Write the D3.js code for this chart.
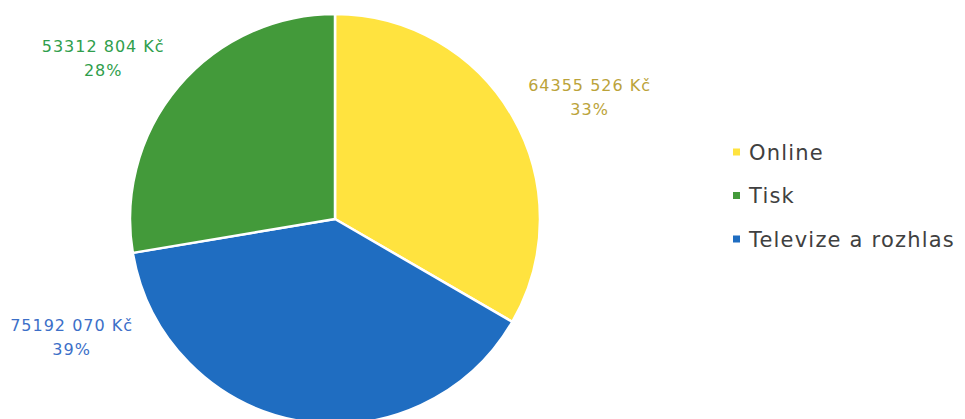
<!DOCTYPE html>
<html><head><meta charset="utf-8">
<script src="https://cdn.jsdelivr.net/npm/d3@7"></script>
<style>body{margin:0;background:#fff}svg{display:block}</style>
</head><body><svg id="c" width="965" height="419"></svg>
<script>
const categories = ["Online", "Televize a rozhlas", "Tisk"];
const values = [64355526, 75192070, 53312804];
const legendOrder = ["Online", "Tisk", "Televize a rozhlas"];
const colors = {"Online":"#FFE33F","Tisk":"#439A3A","Televize a rozhlas":"#1F6DC1"};
const labelColors = {"Online":"#BBA33A","Tisk":"#2F9E4C","Televize a rozhlas":"#3C6FC8"};
// label placement (polar, degrees clockwise from top, radius in px)
const labelPolar = {"Online":[63.7,284],"Tisk":[305.3,284],"Televize a rozhlas":[246.6,287]};

const svg = d3.select("#c");
const cx = 335, cy = 219, R = 205;
const data = categories.map((c,i)=>({cat:c, value:values[i]}));
const total = d3.sum(values);
const pie = d3.pie().value(d=>d.value).sort(null);
const arcs = pie(data);
const arc = d3.arc().innerRadius(0).outerRadius(R);
const g = svg.append("g").attr("transform",`translate(${cx},${cy})`);
g.selectAll("path").data(arcs).join("path")
  .attr("d",arc).attr("fill",d=>colors[d.data.cat])
  .attr("stroke","#fff").attr("stroke-width",2.5).attr("stroke-linejoin","round");

const fmt = v => { const s = String(v); return s.slice(0,s.length-3)+" "+s.slice(-3)+" Kč"; };
const lbl = g.selectAll("text.lbl").data(arcs).join("text").attr("class","lbl")
  .attr("text-anchor","middle")
  .attr("font-family","'DejaVu Sans', sans-serif").attr("font-size",16)
  .attr("letter-spacing",1)
  .attr("fill",d=>labelColors[d.data.cat])
  .attr("transform",d=>{const [a,r]=labelPolar[d.data.cat];const t=a*Math.PI/180;return `translate(${r*Math.sin(t)},${-r*Math.cos(t)})`;});
lbl.append("tspan").attr("x",0).attr("dy","-0.15em").text(d=>fmt(d.data.value));
lbl.append("tspan").attr("x",0).attr("dy","1.5em").text(d=>Math.round(d.data.value/total*100)+"%");

const leg = svg.append("g").attr("transform","translate(733,152)");
const y = d3.scalePoint().domain(legendOrder).range([0,87]);
const li = leg.selectAll("g").data(legendOrder).join("g").attr("transform",d=>`translate(0,${y(d)})`);
li.append("rect").attr("x",0).attr("y",-3.5).attr("width",7).attr("height",7).attr("fill",d=>colors[d]);
li.append("text").attr("x",16).attr("dy","0.36em").attr("letter-spacing",1.2)
  .attr("font-family","'DejaVu Sans', sans-serif").attr("font-size",21).attr("fill","#404040").text(d=>d);
</script></body></html>
